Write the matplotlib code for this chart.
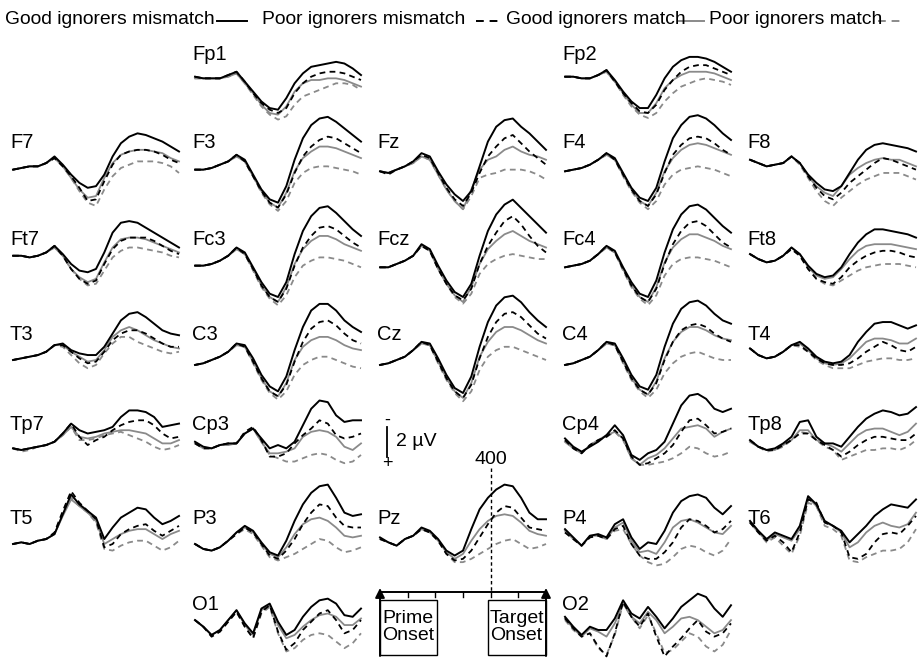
import matplotlib.pyplot as plt
from matplotlib.patches import Rectangle

plt.rcParams['font.family'] = ['Liberation Sans', 'DejaVu Sans']

# sample times (ms from prime onset)
t_ms = list(range(0, 601, 30))

# amplitudes in microvolts (negative plotted up)
# gm = good ignorers mismatch, pm = poor ignorers mismatch,
# ga = good ignorers match,    pa = poor ignorers match
fp1_gm = [-0.2, -0.1, -0.1, -0.1, -0.3, -0.5, 0.1, 0.7, 1.3, 1.7, 1.8, 1.1, 0.2, -0.4, -0.8, -0.9, -1.0, -1.1, -1.0, -0.7, -0.3]
fp1_pm = [-0.2, -0.1, -0.1, -0.1, -0.3, -0.5, 0.1, 0.8, 1.4, 1.8, 2.0, 1.7, 0.8, 0.2, -0.2, -0.4, -0.5, -0.5, -0.4, -0.2, 0.0]
fp1_ga = [-0.1, -0.1, -0.1, -0.1, -0.2, -0.4, 0.2, 0.8, 1.5, 2.0, 2.1, 1.6, 0.7, 0.2, 0.0, 0.0, -0.1, -0.1, 0.0, 0.2, 0.4]
fp1_pa = [-0.1, -0.1, -0.1, -0.1, -0.2, -0.4, 0.2, 0.9, 1.6, 2.1, 2.4, 2.2, 1.5, 1.0, 0.8, 0.6, 0.4, 0.2, 0.2, 0.3, 0.6]

fp2_gm = [-0.2, -0.2, -0.1, -0.1, -0.3, -0.6, 0.0, 0.7, 1.3, 1.7, 1.7, 0.9, -0.1, -0.8, -1.2, -1.4, -1.4, -1.3, -1.1, -0.8, -0.5]
fp2_pm = [-0.2, -0.2, -0.1, -0.1, -0.3, -0.6, 0.1, 0.8, 1.4, 1.9, 2.0, 1.5, 0.6, 0.0, -0.5, -0.8, -0.9, -0.9, -0.7, -0.5, -0.3]
fp2_ga = [-0.2, -0.2, -0.1, -0.1, -0.3, -0.5, 0.1, 0.8, 1.5, 2.0, 2.0, 1.4, 0.5, 0.0, -0.3, -0.5, -0.5, -0.5, -0.4, -0.2, 0.0]
fp2_pa = [-0.2, -0.2, -0.1, -0.1, -0.3, -0.5, 0.1, 0.9, 1.6, 2.1, 2.3, 2.0, 1.3, 0.8, 0.4, 0.2, 0.0, -0.1, 0.0, 0.1, 0.3]

f7_gm = [0.1, 0.0, -0.1, -0.1, -0.3, -0.7, -0.2, 0.4, 0.9, 1.2, 1.1, 0.4, -0.7, -1.5, -1.9, -2.1, -2.0, -1.8, -1.6, -1.3, -1.0]
f7_pm = [0.1, 0.0, -0.1, -0.1, -0.3, -0.6, -0.1, 0.5, 1.2, 2.0, 1.9, 0.8, -0.2, -0.8, -1.0, -1.1, -1.1, -1.0, -0.8, -0.5, -0.3]
f7_ga = [0.1, 0.0, -0.1, -0.1, -0.3, -0.6, -0.1, 0.6, 1.3, 1.8, 1.7, 0.6, -0.3, -0.8, -1.0, -1.1, -1.1, -1.0, -0.9, -0.6, -0.4]
f7_pa = [0.1, 0.0, -0.1, -0.1, -0.3, -0.6, -0.1, 0.6, 1.4, 2.1, 2.3, 1.3, 0.5, 0.0, -0.2, -0.4, -0.4, -0.4, -0.3, -0.1, 0.3]

f3_gm = [0.1, 0.1, 0.0, -0.2, -0.4, -0.8, -0.5, 0.4, 1.3, 1.9, 2.1, 1.1, -0.5, -1.8, -2.6, -3.0, -3.1, -2.8, -2.4, -2.0, -1.6]
f3_pm = [0.1, 0.1, 0.0, -0.2, -0.4, -0.8, -0.4, 0.5, 1.4, 2.1, 2.4, 1.6, 0.3, -0.7, -1.3, -1.7, -1.9, -1.8, -1.5, -1.2, -0.9]
f3_ga = [0.1, 0.1, 0.0, -0.2, -0.4, -0.7, -0.4, 0.5, 1.4, 2.1, 2.4, 1.5, 0.2, -0.6, -1.0, -1.3, -1.3, -1.2, -1.0, -0.8, -0.6]
f3_pa = [0.1, 0.1, 0.0, -0.2, -0.4, -0.7, -0.4, 0.5, 1.5, 2.2, 2.6, 2.0, 0.9, 0.3, 0.0, -0.1, -0.1, 0.0, 0.1, 0.2, 0.4]

fz_gm = [0.2, 0.3, 0.1, -0.1, -0.4, -0.9, -0.7, 0.2, 1.0, 1.6, 2.0, 1.4, -0.1, -1.6, -2.5, -2.9, -3.0, -2.5, -2.1, -1.6, -1.1]
fz_pm = [0.2, 0.4, 0.1, -0.1, -0.4, -0.8, -0.6, 0.3, 1.2, 1.9, 2.3, 1.5, 0.3, -0.7, -1.3, -1.8, -2.0, -1.5, -1.0, -0.6, -0.2]
fz_ga = [0.2, 0.3, 0.1, -0.1, -0.3, -0.7, -0.5, 0.4, 1.3, 2.0, 2.5, 1.3, 0.1, -0.5, -0.7, -1.1, -1.3, -1.0, -0.8, -0.7, -0.5]
fz_pa = [0.2, 0.3, 0.1, -0.1, -0.3, -0.7, -0.5, 0.4, 1.3, 2.0, 2.5, 1.7, 0.6, 0.4, 0.3, 0.1, 0.1, 0.1, 0.2, 0.4, 0.7]

f4_gm = [0.2, 0.1, 0.0, -0.2, -0.5, -0.9, -0.6, 0.3, 1.2, 1.8, 2.0, 1.2, -0.4, -1.8, -2.6, -3.1, -3.2, -3.0, -2.6, -2.1, -1.7]
f4_pm = [0.2, 0.1, 0.0, -0.2, -0.5, -0.9, -0.5, 0.4, 1.3, 2.0, 2.3, 1.6, 0.3, -0.8, -1.4, -1.8, -1.9, -1.8, -1.5, -1.1, -0.8]
f4_ga = [0.2, 0.1, 0.0, -0.2, -0.5, -0.8, -0.5, 0.4, 1.3, 2.0, 2.3, 1.5, 0.2, -0.6, -1.1, -1.4, -1.5, -1.4, -1.2, -1.0, -0.8]
f4_pa = [0.2, 0.1, 0.0, -0.2, -0.5, -0.8, -0.5, 0.5, 1.4, 2.1, 2.5, 2.0, 1.0, 0.4, 0.1, 0.0, -0.1, 0.0, 0.1, 0.3, 0.5]

f8_gm = [-0.5, -0.3, -0.1, -0.2, -0.3, -0.7, -0.3, 0.4, 0.9, 1.3, 1.4, 1.1, 0.3, -0.5, -1.1, -1.4, -1.5, -1.4, -1.3, -1.2, -1.0]
f8_pm = [-0.5, -0.3, -0.1, -0.2, -0.3, -0.7, -0.3, 0.5, 1.2, 1.7, 1.9, 1.5, 0.9, 0.5, 0.1, -0.3, -0.6, -0.5, -0.3, -0.1, 0.1]
f8_ga = [-0.5, -0.3, -0.1, -0.2, -0.3, -0.7, -0.3, 0.5, 1.1, 1.5, 1.7, 1.1, 0.4, 0.0, -0.3, -0.5, -0.6, -0.5, -0.5, -0.3, -0.1]
f8_pa = [-0.5, -0.3, -0.1, -0.2, -0.3, -0.7, -0.2, 0.6, 1.4, 2.0, 2.3, 1.8, 1.4, 1.0, 0.7, 0.5, 0.3, 0.3, 0.3, 0.5, 0.7]

ft7_gm = [-0.5, -0.5, -0.4, -0.5, -0.7, -1.1, -0.6, 0.0, 0.4, 0.5, 0.3, -0.7, -1.9, -2.5, -2.6, -2.5, -2.2, -1.9, -1.6, -1.3, -1.0]
ft7_pm = [-0.5, -0.5, -0.4, -0.5, -0.7, -1.1, -0.5, 0.3, 0.9, 1.2, 1.0, 0.0, -0.9, -1.4, -1.6, -1.6, -1.6, -1.4, -1.1, -0.8, -0.6]
ft7_ga = [-0.5, -0.5, -0.4, -0.5, -0.7, -1.0, -0.5, 0.3, 0.8, 1.1, 0.9, -0.1, -1.0, -1.5, -1.6, -1.6, -1.5, -1.3, -1.1, -0.9, -0.7]
ft7_pa = [-0.5, -0.5, -0.4, -0.5, -0.7, -1.0, -0.5, 0.3, 0.9, 1.3, 1.2, 0.4, -0.4, -0.8, -1.0, -1.0, -0.9, -0.8, -0.7, -0.5, -0.4]

fc3_gm = [0.1, 0.1, 0.0, -0.2, -0.5, -1.0, -0.7, 0.2, 1.1, 1.8, 2.0, 1.1, -0.6, -2.0, -2.9, -3.4, -3.5, -3.1, -2.6, -2.1, -1.7]
fc3_pm = [0.1, 0.1, 0.0, -0.2, -0.5, -1.0, -0.6, 0.3, 1.3, 2.0, 2.3, 1.5, 0.1, -1.0, -1.7, -2.2, -2.3, -2.1, -1.7, -1.3, -1.0]
fc3_ga = [0.1, 0.1, 0.0, -0.2, -0.5, -0.9, -0.6, 0.3, 1.3, 2.0, 2.3, 1.4, 0.0, -0.9, -1.4, -1.7, -1.7, -1.5, -1.2, -1.0, -0.8]
fc3_pa = [0.1, 0.1, 0.0, -0.2, -0.5, -0.9, -0.6, 0.4, 1.4, 2.1, 2.5, 1.9, 0.8, 0.1, -0.2, -0.4, -0.4, -0.3, -0.2, 0.0, 0.2]

fcz_gm = [0.2, 0.2, 0.0, -0.2, -0.5, -1.2, -0.9, 0.1, 1.0, 1.7, 2.0, 1.2, -0.5, -2.0, -3.0, -3.6, -3.9, -3.4, -2.9, -2.4, -1.9]
fcz_pm = [0.2, 0.2, 0.0, -0.2, -0.5, -1.1, -0.8, 0.3, 1.2, 1.9, 2.2, 1.5, 0.0, -1.1, -1.9, -2.6, -2.9, -2.4, -1.7, -1.1, -0.7]
fcz_ga = [0.2, 0.2, 0.0, -0.2, -0.5, -1.1, -0.8, 0.3, 1.2, 1.9, 2.3, 1.4, 0.0, -0.9, -1.4, -1.8, -2.0, -1.7, -1.4, -1.2, -1.0]
fcz_pa = [0.2, 0.2, 0.0, -0.2, -0.5, -1.1, -0.8, 0.3, 1.2, 2.0, 2.4, 1.8, 0.6, 0.0, -0.3, -0.5, -0.6, -0.5, -0.4, -0.3, -0.3]

fc4_gm = [0.2, 0.1, 0.0, -0.2, -0.6, -1.1, -0.8, 0.2, 1.1, 1.8, 2.0, 1.0, -0.7, -2.1, -3.0, -3.5, -3.6, -3.3, -2.8, -2.3, -1.9]
fc4_pm = [0.2, 0.1, 0.0, -0.2, -0.6, -1.1, -0.7, 0.3, 1.3, 2.0, 2.3, 1.5, 0.0, -1.2, -2.0, -2.5, -2.6, -2.3, -1.8, -1.3, -1.0]
fc4_ga = [0.2, 0.1, 0.0, -0.2, -0.6, -1.0, -0.7, 0.3, 1.3, 2.0, 2.3, 1.4, -0.1, -1.0, -1.5, -1.8, -1.8, -1.6, -1.4, -1.1, -0.9]
fc4_pa = [0.2, 0.1, 0.0, -0.2, -0.6, -1.0, -0.7, 0.4, 1.4, 2.1, 2.5, 1.9, 0.7, 0.0, -0.3, -0.4, -0.4, -0.3, -0.2, 0.0, 0.2]

ft8_gm = [-0.6, -0.3, -0.1, -0.2, -0.5, -1.0, -0.6, 0.1, 0.6, 0.8, 0.7, 0.2, -0.6, -1.3, -1.8, -2.1, -2.1, -2.0, -1.9, -1.8, -1.6]
ft8_pm = [-0.6, -0.3, -0.1, -0.2, -0.5, -0.9, -0.5, 0.3, 0.9, 1.1, 1.2, 0.8, 0.2, -0.2, -0.5, -0.7, -0.8, -0.8, -0.7, -0.5, -0.4]
ft8_ga = [-0.6, -0.3, -0.1, -0.2, -0.5, -1.0, -0.6, 0.2, 0.7, 0.9, 0.8, 0.3, -0.3, -0.8, -1.1, -1.2, -1.2, -1.2, -1.1, -1.0, -0.9]
ft8_pa = [-0.6, -0.3, -0.1, -0.2, -0.5, -0.9, -0.5, 0.3, 0.9, 1.2, 1.3, 1.0, 0.7, 0.4, 0.2, 0.1, 0.0, 0.0, 0.0, 0.1, 0.2]

t3_gm = [0.0, -0.1, -0.2, -0.3, -0.5, -0.9, -1.0, -0.6, -0.4, -0.3, -0.3, -0.8, -1.6, -2.4, -2.8, -2.9, -2.6, -2.2, -1.8, -1.6, -1.5]
t3_pm = [0.0, -0.1, -0.2, -0.3, -0.5, -0.9, -0.9, -0.5, -0.1, 0.2, 0.1, -0.5, -1.2, -1.6, -1.8, -1.8, -1.6, -1.3, -1.0, -0.8, -0.8]
t3_ga = [0.0, -0.1, -0.2, -0.3, -0.5, -0.9, -0.9, -0.5, -0.2, 0.1, 0.0, -0.6, -1.4, -1.8, -2.0, -1.8, -1.5, -1.2, -1.0, -0.8, -0.7]
t3_pa = [0.0, -0.1, -0.2, -0.3, -0.5, -0.9, -0.8, -0.3, 0.2, 0.5, 0.3, -0.4, -1.0, -1.4, -1.4, -1.1, -0.9, -0.7, -0.5, -0.4, -0.5]

c3_gm = [0.3, 0.2, 0.0, -0.2, -0.5, -1.0, -0.9, -0.1, 0.9, 1.6, 1.9, 1.0, -0.6, -2.0, -3.0, -3.4, -3.4, -3.0, -2.4, -2.0, -1.7]
c3_pm = [0.3, 0.2, 0.0, -0.2, -0.5, -1.0, -0.8, 0.1, 1.1, 1.9, 2.2, 1.5, 0.1, -1.1, -1.9, -2.3, -2.4, -2.1, -1.6, -1.2, -1.0]
c3_ga = [0.3, 0.2, 0.0, -0.2, -0.5, -0.9, -0.8, 0.1, 1.1, 1.9, 2.2, 1.4, 0.0, -0.8, -1.2, -1.4, -1.4, -1.2, -0.9, -0.7, -0.6]
c3_pa = [0.3, 0.2, 0.0, -0.2, -0.5, -0.9, -0.8, 0.2, 1.2, 2.0, 2.4, 1.9, 0.9, 0.3, 0.0, -0.2, -0.2, 0.0, 0.2, 0.4, 0.5]

cz_gm = [0.3, 0.2, 0.0, -0.2, -0.6, -1.1, -1.0, -0.1, 0.9, 1.7, 2.0, 1.0, -0.8, -2.3, -3.3, -3.8, -3.9, -3.5, -2.9, -2.4, -2.0]
cz_pm = [0.3, 0.2, 0.0, -0.2, -0.6, -1.1, -0.9, 0.1, 1.1, 1.9, 2.3, 1.5, -0.1, -1.4, -2.3, -2.8, -2.9, -2.6, -2.1, -1.6, -1.3]
cz_ga = [0.3, 0.2, 0.0, -0.2, -0.6, -1.0, -0.9, 0.1, 1.1, 1.9, 2.3, 1.4, -0.2, -1.1, -1.7, -2.0, -2.0, -1.8, -1.5, -1.2, -1.0]
cz_pa = [0.3, 0.2, 0.0, -0.2, -0.6, -1.0, -0.9, 0.2, 1.2, 2.0, 2.5, 1.9, 0.6, -0.2, -0.6, -0.8, -0.8, -0.6, -0.4, -0.2, 0.0]

c4_gm = [0.3, 0.2, 0.0, -0.2, -0.6, -1.1, -1.0, -0.1, 0.9, 1.6, 1.8, 0.9, -0.8, -2.2, -3.1, -3.5, -3.6, -3.3, -2.8, -2.4, -2.2]
c4_pm = [0.3, 0.2, 0.0, -0.2, -0.6, -1.1, -0.9, 0.1, 1.1, 1.8, 2.1, 1.4, 0.0, -1.1, -1.8, -2.1, -2.2, -2.0, -1.6, -1.3, -1.1]
c4_ga = [0.3, 0.2, 0.0, -0.2, -0.6, -1.0, -0.9, 0.1, 1.1, 1.8, 2.1, 1.3, -0.1, -1.1, -1.7, -2.0, -2.0, -1.8, -1.5, -1.3, -1.2]
c4_pa = [0.3, 0.2, 0.0, -0.2, -0.6, -1.0, -0.9, 0.2, 1.2, 1.9, 2.3, 1.8, 0.8, 0.2, -0.2, -0.4, -0.5, -0.3, -0.1, 0.0, 0.0]

t4_gm = [-0.7, -0.3, -0.1, -0.2, -0.5, -0.9, -1.1, -0.7, -0.2, 0.1, 0.2, 0.1, -0.3, -1.1, -1.7, -2.2, -2.3, -2.3, -2.1, -1.9, -2.1]
t4_pm = [-0.7, -0.3, -0.1, -0.2, -0.5, -0.9, -0.9, -0.5, -0.1, 0.2, 0.3, 0.3, 0.2, -0.1, -0.5, -0.8, -1.1, -0.9, -0.6, -0.5, -0.8]
t4_ga = [-0.7, -0.3, -0.1, -0.2, -0.5, -0.9, -1.0, -0.6, -0.1, 0.2, 0.3, 0.2, -0.1, -0.6, -1.1, -1.3, -1.3, -1.2, -1.0, -1.0, -1.3]
t4_pa = [-0.7, -0.3, -0.1, -0.2, -0.5, -0.9, -0.8, -0.5, 0.0, 0.3, 0.5, 0.5, 0.5, 0.3, 0.1, 0.0, -0.1, -0.1, 0.0, 0.0, -0.1]

tp7_gm = [-0.1, 0.0, -0.1, -0.2, -0.3, -0.5, -1.0, -1.6, -1.2, -1.0, -1.1, -1.2, -1.4, -2.0, -2.4, -2.4, -2.3, -2.0, -1.4, -1.5, -1.6]
tp7_pm = [-0.1, 0.0, -0.1, -0.2, -0.3, -0.5, -1.0, -1.6, -0.8, -0.3, -0.6, -0.8, -1.2, -1.5, -1.7, -1.8, -1.8, -1.5, -1.0, -0.7, -0.8]
tp7_ga = [-0.1, 0.0, -0.1, -0.2, -0.3, -0.5, -0.9, -1.4, -0.8, -0.7, -0.8, -1.0, -1.1, -1.2, -1.2, -1.1, -1.0, -0.7, -0.4, -0.4, -0.6]
tp7_pa = [-0.1, 0.1, 0.0, -0.2, -0.3, -0.5, -0.9, -1.4, -0.6, -0.6, -0.7, -0.9, -1.0, -1.1, -0.9, -0.7, -0.5, -0.2, 0.0, -0.1, -0.3]

cp3_gm = [-0.5, -0.2, -0.1, -0.3, -0.4, -0.4, -1.0, -1.3, -0.7, -0.1, -0.3, -0.1, -0.5, -1.5, -2.5, -3.0, -2.9, -2.1, -1.7, -1.8, -1.8]
cp3_pm = [-0.4, -0.1, -0.1, -0.3, -0.4, -0.4, -1.1, -1.4, -0.6, 0.4, 0.4, 0.2, -0.4, -0.9, -1.3, -1.8, -1.6, -0.9, -0.7, -0.8, -1.0]
cp3_ga = [-0.4, -0.1, -0.1, -0.3, -0.3, -0.4, -1.0, -1.3, -0.5, 0.2, 0.2, 0.1, -0.1, -0.8, -1.1, -1.2, -1.1, -0.8, -0.2, 0.0, -0.4]
cp3_pa = [-0.4, -0.1, -0.1, -0.3, -0.3, -0.4, -1.0, -1.3, -0.5, 0.3, 0.5, 0.7, 0.7, 0.5, 0.3, 0.2, 0.3, 0.6, 0.8, 0.7, 0.3]

cp4_gm = [-0.7, -0.2, 0.1, -0.2, -0.5, -0.9, -1.5, -0.9, 0.3, 0.6, 0.2, 0.0, -0.5, -1.6, -2.7, -3.3, -3.4, -3.1, -2.5, -2.3, -2.5]
cp4_pm = [-0.6, -0.1, 0.2, -0.3, -0.6, -0.8, -1.2, -0.7, 0.4, 0.9, 0.8, 0.5, 0.2, -0.3, -1.1, -1.8, -1.9, -1.5, -1.0, -1.1, -1.3]
cp4_ga = [-0.5, -0.1, 0.2, -0.3, -0.6, -0.9, -1.1, -0.7, 0.5, 0.9, 0.5, 0.3, -0.1, -0.7, -1.3, -1.4, -1.5, -1.3, -0.8, -1.1, -1.3]
cp4_pa = [-0.5, -0.1, 0.2, -0.3, -0.6, -0.8, -1.1, -0.6, 0.5, 0.9, 0.9, 0.8, 0.7, 0.5, 0.2, -0.2, -0.1, 0.2, 0.4, 0.3, 0.1]

tp8_gm = [-0.6, -0.2, 0.0, -0.1, -0.4, -0.8, -1.7, -1.8, -0.8, -0.4, -0.4, -0.2, -0.8, -1.4, -1.9, -2.2, -2.4, -2.3, -2.1, -2.2, -2.6]
tp8_pm = [-0.6, -0.2, 0.0, 0.0, -0.3, -0.6, -1.0, -1.0, -0.6, -0.3, 0.0, 0.4, 0.1, -0.3, -0.6, -0.8, -0.8, -0.7, -0.6, -0.6, -1.0]
tp8_ga = [-0.5, -0.2, 0.0, 0.0, -0.3, -0.6, -1.2, -1.2, -0.6, -0.4, -0.2, 0.1, -0.4, -0.9, -1.2, -1.3, -1.3, -1.1, -0.9, -1.1, -1.6]
tp8_pa = [-0.5, -0.2, 0.1, 0.0, -0.2, -0.6, -1.1, -1.0, -0.6, -0.2, 0.0, 0.6, 0.4, 0.2, 0.0, 0.0, -0.1, -0.1, 0.0, -0.2, -0.6]

t5_gm = [0.0, -0.1, 0.0, -0.2, -0.3, -0.6, -1.8, -3.0, -2.4, -2.0, -1.6, -0.3, -1.0, -1.6, -1.9, -2.2, -2.1, -1.6, -1.2, -1.4, -1.7]
t5_pm = [0.0, -0.1, 0.0, -0.2, -0.3, -0.7, -2.0, -3.2, -2.5, -2.0, -1.5, 0.2, 0.0, -0.6, -0.9, -1.1, -1.2, -0.8, -0.5, -0.8, -1.1]
t5_ga = [0.0, -0.1, 0.0, -0.2, -0.3, -0.6, -1.7, -2.7, -2.3, -1.9, -1.4, 0.0, -0.3, -0.6, -0.8, -0.9, -0.9, -0.6, -0.3, -0.6, -0.8]
t5_pa = [0.0, -0.1, 0.0, -0.2, -0.3, -0.6, -1.8, -2.8, -2.3, -1.9, -1.3, 0.3, 0.4, 0.1, -0.1, -0.2, -0.2, 0.1, 0.4, 0.2, -0.2]

p3_gm = [0.0, 0.3, 0.4, 0.2, -0.2, -0.7, -1.1, -0.8, -0.1, 0.5, 0.7, -0.2, -1.4, -2.4, -3.1, -3.5, -3.6, -2.8, -1.9, -1.7, -1.8]
p3_pm = [0.0, 0.3, 0.4, 0.2, -0.2, -0.6, -1.0, -0.7, 0.0, 0.7, 0.9, 0.4, -0.3, -1.2, -1.9, -2.4, -2.3, -1.6, -1.1, -1.0, -1.0]
p3_ga = [0.0, 0.3, 0.4, 0.2, -0.2, -0.7, -1.0, -0.7, 0.0, 0.6, 0.8, 0.2, -0.6, -1.2, -1.5, -1.6, -1.4, -1.0, -0.5, -0.4, -0.5]
p3_pa = [0.0, 0.3, 0.4, 0.2, -0.2, -0.6, -0.9, -0.6, 0.1, 0.8, 1.0, 0.8, 0.6, 0.3, 0.0, -0.3, -0.2, 0.2, 0.5, 0.4, 0.2]

pz_gm = [-0.4, -0.1, 0.1, -0.3, -0.5, -1.0, -0.8, -0.3, 0.4, 0.7, 0.4, -0.9, -2.1, -2.8, -3.3, -3.6, -3.5, -2.8, -1.9, -1.5, -1.5]
pz_pm = [-0.3, -0.1, 0.1, -0.3, -0.5, -0.9, -0.7, -0.2, 0.6, 1.0, 0.9, 0.4, -0.4, -1.2, -1.9, -2.3, -2.2, -1.6, -1.0, -0.9, -0.8]
pz_ga = [-0.3, -0.1, 0.1, -0.3, -0.5, -0.9, -0.7, -0.2, 0.5, 0.9, 0.6, -0.2, -0.9, -1.4, -1.7, -1.8, -1.7, -1.3, -0.8, -0.6, -0.5]
pz_pa = [-0.3, -0.1, 0.1, -0.3, -0.5, -0.9, -0.7, -0.2, 0.6, 1.1, 1.1, 0.9, 0.6, 0.3, 0.0, -0.2, -0.3, 0.0, 0.3, 0.2, 0.0]

p4_gm = [-0.9, -0.4, 0.1, -0.5, -0.6, -0.4, -1.2, -1.5, -0.4, 0.3, -0.1, 0.0, -0.8, -1.9, -2.6, -2.9, -3.0, -2.8, -2.2, -1.8, -2.3]
p4_pm = [-0.7, -0.3, 0.1, -0.4, -0.5, -0.3, -0.9, -1.1, 0.0, 0.7, 0.9, 0.9, 0.5, -0.1, -1.0, -1.5, -1.4, -1.1, -0.7, -0.9, -1.4]
p4_ga = [-0.8, -0.3, 0.1, -0.5, -0.5, -0.3, -1.0, -1.3, -0.2, 0.5, 0.4, 0.6, -0.1, -1.0, -1.4, -1.5, -1.3, -1.0, -0.7, -0.6, -1.1]
p4_pa = [-0.7, -0.3, 0.1, -0.4, -0.5, -0.3, -0.8, -0.9, 0.0, 0.7, 1.1, 1.3, 1.2, 0.8, 0.3, 0.1, 0.2, 0.5, 0.7, 0.4, -0.3]

t6_gm = [-1.4, -0.8, -0.3, -0.7, -0.5, -0.3, -1.1, -2.9, -2.4, -1.4, -1.1, -0.8, -0.1, -0.6, -1.1, -1.7, -2.1, -2.4, -2.3, -2.2, -2.7]
t6_pm = [-1.3, -0.7, -0.2, -0.5, -0.1, 0.5, -0.7, -2.7, -2.5, -1.3, -1.1, -0.7, 0.8, 0.9, 0.6, -0.1, -0.6, -0.7, -0.6, -1.1, -1.7]
t6_ga = [-1.3, -0.7, -0.2, -0.6, -0.4, -0.2, -0.9, -2.8, -2.3, -1.3, -1.1, -0.7, 0.2, -0.1, -0.7, -1.1, -1.3, -1.1, -1.0, -1.2, -1.9]
t6_pa = [-1.3, -0.7, -0.1, -0.4, 0.1, 0.6, -0.5, -2.5, -2.3, -1.1, -0.9, -0.5, 1.0, 1.1, 0.8, 0.6, 0.4, 0.4, 0.3, -0.1, -0.9]

o1_gm = [-0.6, -0.2, 0.3, 0.0, -0.6, -1.2, -0.4, 0.2, -1.3, -1.6, -0.5, 0.3, 0.0, -0.8, -1.4, -1.8, -1.9, -1.6, -0.9, -0.8, -1.3]
o1_pm = [-0.6, -0.2, 0.4, 0.1, -0.5, -1.1, -0.2, 0.5, -1.1, -1.5, 0.1, 1.2, 0.8, 0.0, -0.5, -1.0, -1.2, -0.6, 0.2, 0.0, -0.6]
o1_ga = [-0.6, -0.2, 0.3, 0.0, -0.6, -1.2, -0.3, 0.3, -1.2, -1.5, -0.3, 0.5, 0.3, -0.2, -0.6, -0.9, -1.0, -0.8, -0.3, -0.3, -0.7]
o1_pa = [-0.6, -0.2, 0.4, 0.1, -0.5, -1.1, -0.2, 0.5, -1.0, -1.4, 0.2, 1.3, 1.1, 0.6, 0.3, 0.2, 0.3, 0.7, 1.1, 0.8, 0.2]

o2_gm = [-0.8, -0.2, 0.3, -0.2, 0.0, 0.0, -0.7, -1.8, -1.0, -0.7, -1.4, -0.8, -0.1, -0.7, -1.4, -1.8, -2.2, -2.0, -1.3, -0.8, -1.5]
o2_pm = [-0.7, -0.1, 0.4, 0.2, 1.0, 1.6, 0.2, -1.7, -0.8, -0.2, -1.0, 0.4, 1.6, 1.0, 0.5, -0.1, -0.6, 0.1, 0.4, 0.2, -0.4]
o2_ga = [-0.7, -0.1, 0.4, -0.1, 0.1, 0.4, -0.4, -1.6, -0.8, -0.4, -1.1, -0.6, 0.2, -0.2, -0.7, -0.8, -0.6, -0.2, 0.2, 0.0, -0.6]
o2_pa = [-0.6, 0.0, 0.4, 0.2, 1.1, 1.5, 0.3, -1.6, -0.8, -0.1, -0.9, 0.2, 1.4, 1.2, 0.7, 0.2, 0.4, 1.0, 1.3, 0.9, 0.0]

# electrode grid: (label, column, row, series)
panels = [
    ('Fp1', 1, 0, fp1_gm, fp1_pm, fp1_ga, fp1_pa), ('Fp2', 3, 0, fp2_gm, fp2_pm, fp2_ga, fp2_pa),
    ('F7', 0, 1, f7_gm, f7_pm, f7_ga, f7_pa), ('F3', 1, 1, f3_gm, f3_pm, f3_ga, f3_pa),
    ('Fz', 2, 1, fz_gm, fz_pm, fz_ga, fz_pa), ('F4', 3, 1, f4_gm, f4_pm, f4_ga, f4_pa),
    ('F8', 4, 1, f8_gm, f8_pm, f8_ga, f8_pa),
    ('Ft7', 0, 2, ft7_gm, ft7_pm, ft7_ga, ft7_pa), ('Fc3', 1, 2, fc3_gm, fc3_pm, fc3_ga, fc3_pa),
    ('Fcz', 2, 2, fcz_gm, fcz_pm, fcz_ga, fcz_pa), ('Fc4', 3, 2, fc4_gm, fc4_pm, fc4_ga, fc4_pa),
    ('Ft8', 4, 2, ft8_gm, ft8_pm, ft8_ga, ft8_pa),
    ('T3', 0, 3, t3_gm, t3_pm, t3_ga, t3_pa), ('C3', 1, 3, c3_gm, c3_pm, c3_ga, c3_pa),
    ('Cz', 2, 3, cz_gm, cz_pm, cz_ga, cz_pa), ('C4', 3, 3, c4_gm, c4_pm, c4_ga, c4_pa),
    ('T4', 4, 3, t4_gm, t4_pm, t4_ga, t4_pa),
    ('Tp7', 0, 4, tp7_gm, tp7_pm, tp7_ga, tp7_pa), ('Cp3', 1, 4, cp3_gm, cp3_pm, cp3_ga, cp3_pa),
    ('Cp4', 3, 4, cp4_gm, cp4_pm, cp4_ga, cp4_pa), ('Tp8', 4, 4, tp8_gm, tp8_pm, tp8_ga, tp8_pa),
    ('T5', 0, 5, t5_gm, t5_pm, t5_ga, t5_pa), ('P3', 1, 5, p3_gm, p3_pm, p3_ga, p3_pa),
    ('Pz', 2, 5, pz_gm, pz_pm, pz_ga, pz_pa), ('P4', 3, 5, p4_gm, p4_pm, p4_ga, p4_pa),
    ('T6', 4, 5, t6_gm, t6_pm, t6_ga, t6_pa),
    ('O1', 1, 6, o1_gm, o1_pm, o1_ga, o1_pa), ('O2', 3, 6, o2_gm, o2_pm, o2_ga, o2_pa),
]

W, H = 918, 662
col_x = [13, 195, 380, 565, 750]          # left edge of each column (px)
row_y = [55, 143, 239, 335, 425, 519, 605]  # label centre of each row (px)
PANEL_W = 166
PX_PER_UV = 16.5
HALF = 66

fig = plt.figure(figsize=(W / 100, H / 100), dpi=100)


def px_axes(x0, y0, w, h):
    return fig.add_axes([x0 / W, 1 - (y0 + h) / H, w / W, h / H])


GREY = '#8a8a8a'
DASH = (0, (3.2, 2.4))
styles = [  # order drawn: poor match, good match, poor mismatch, good mismatch
    (6, dict(color=GREY, lw=1.3, ls=DASH)),
    (5, dict(color=GREY, lw=1.3, ls='-')),
    (4, dict(color='black', lw=1.3, ls=DASH)),
    (3, dict(color='black', lw=1.4, ls='-')),
]

for p in panels:
    label, c, r = p[0], p[1], p[2]
    ref = row_y[r] + 25
    ax = px_axes(col_x[c], ref - HALF, PANEL_W, 2 * HALF)
    ax.set_xlim(0, 600)
    ax.set_ylim(HALF / PX_PER_UV, -HALF / PX_PER_UV)
    ax.axis('off')
    for idx, st in styles:
        ax.plot(t_ms, p[idx], clip_on=False, solid_joinstyle='round', **st)
    fig.text((col_x[c] - 3) / W, 1 - row_y[r] / H, label, fontsize=14.5,
             ha='left', va='center')

# overlay in pixel units for the legend line and the scale bar
ov = fig.add_axes([0, 0, 1, 1], zorder=5)
ov.set_xlim(0, W)
ov.set_ylim(H, 0)
ov.axis('off')

LEG_DASH = (0, (4, 3))
legend_parts = [
    (5, 'Good ignorers mismatch', 217, 247, 'black', '-'),
    (262, 'Poor ignorers mismatch', 476, 498, 'black', LEG_DASH),
    (506, 'Good ignorers match', 679, 704, GREY, '-'),
    (709, 'Poor ignorers match', 878, 900, GREY, LEG_DASH),
]
for x, txt, l0, l1, col, ls in legend_parts:
    ov.text(x, 19, txt, fontsize=13.9, ha='left', va='center')
    ov.plot([l0, l1], [21, 21], color=col, ls=ls, lw=1.4)

# scale bar
ov.plot([387, 387], [427, 457], color='black', lw=1.3)
ov.text(387, 420, '-', fontsize=13, ha='center', va='center')
ov.text(387, 464, '+', fontsize=13, ha='center', va='center')
ov.text(396, 441, '2 \u00b5V', fontsize=14, ha='left', va='center')

# time axis under Pz: same x scale as panels, y in pixels
tax = px_axes(col_x[2], 440, PANEL_W, H - 440)
tax.set_xlim(0, 600)
tax.set_ylim(H, 440)
tax.axis('off')
tax.plot([0, 600], [592, 592], color='black', lw=1.4, clip_on=False)
for tk in range(0, 601, 100):
    tax.plot([tk, tk], [592, 597], color='black', lw=1.0)
for xa in (0, 600):
    tax.annotate('', xy=(xa, 588), xytext=(xa, 656),
                 arrowprops=dict(arrowstyle='-|>', color='black', lw=1.4,
                                 mutation_scale=14, shrinkA=0, shrinkB=0),
                 annotation_clip=False)
tax.plot([400, 400], [468, 592], color='black', lw=1.0, ls=(0, (2.5, 2)))
tax.text(400, 459, '400', fontsize=14, ha='center', va='center')

box_w = 57 * 600 / PANEL_W
for x0, txt in ((0, 'Prime\nOnset'), (600 - box_w - 4, 'Target\nOnset')):
    tax.add_patch(Rectangle((x0, 600), box_w + (4 if x0 else 0), 55, fill=False,
                            ec='black', lw=1.0, clip_on=False))
    tax.text(x0 + 8, 627, txt, fontsize=14, ha='left', va='center',
             linespacing=0.95)

fig.savefig('out.png', dpi=100)
